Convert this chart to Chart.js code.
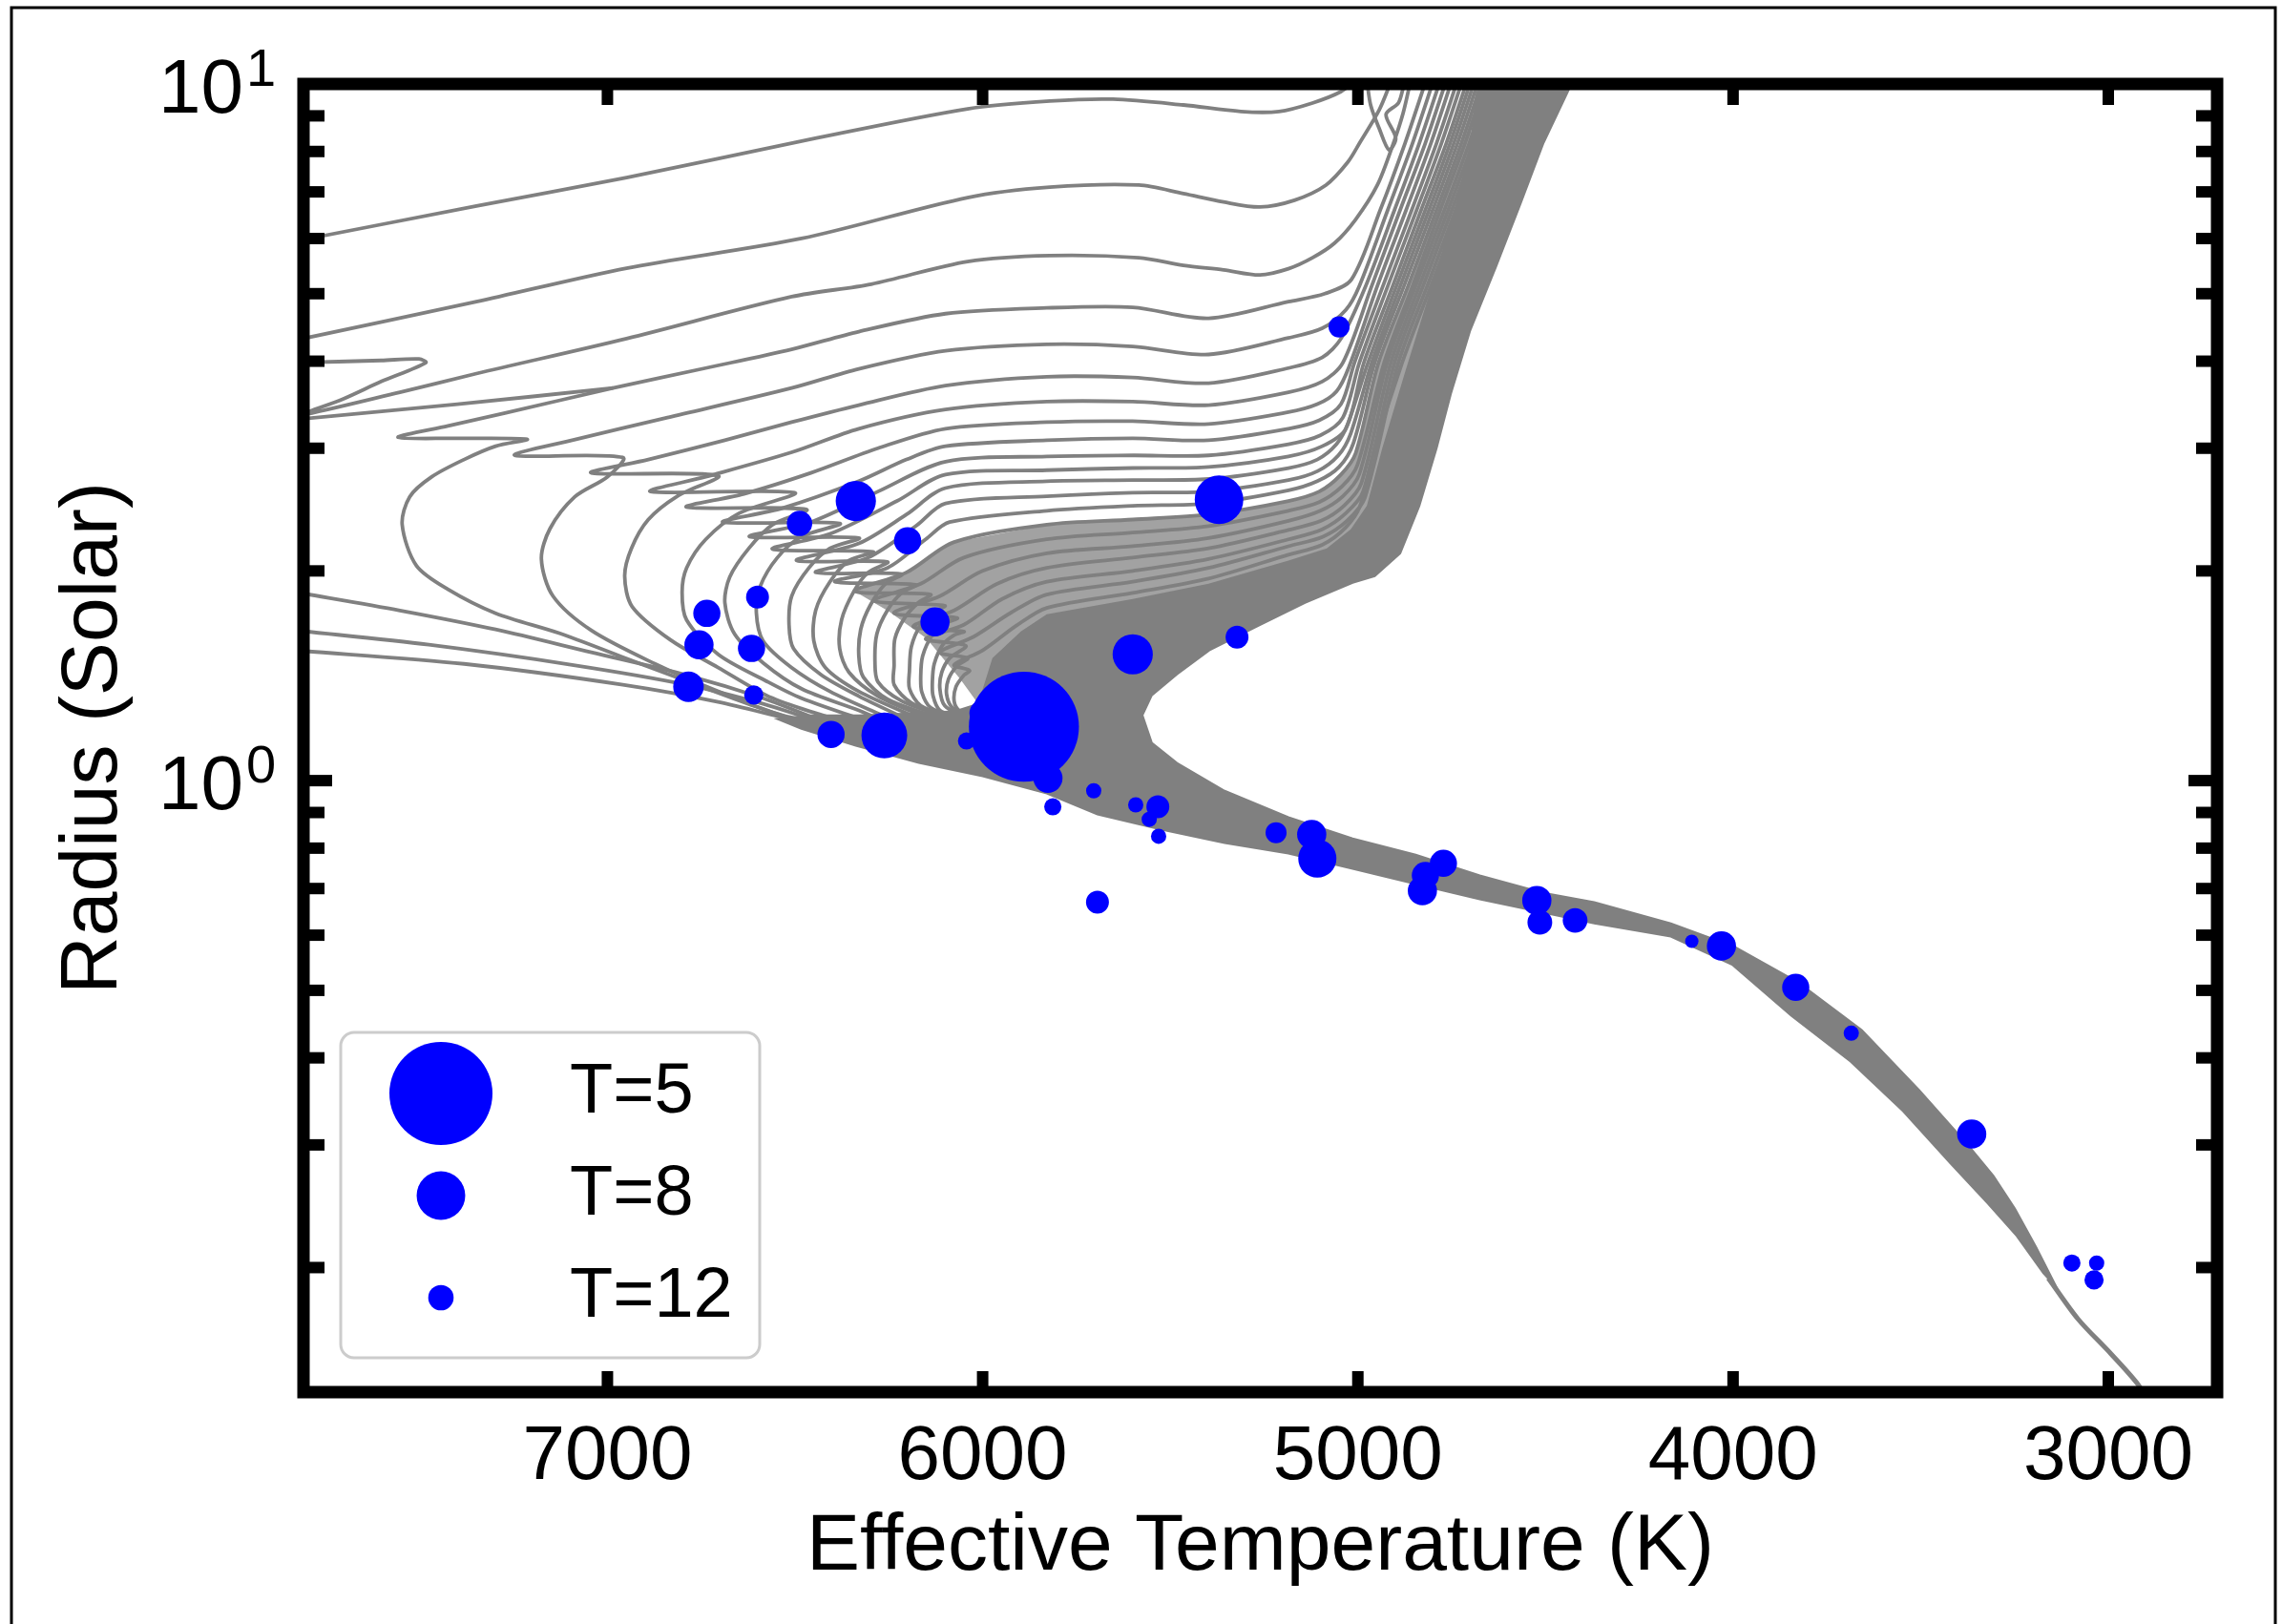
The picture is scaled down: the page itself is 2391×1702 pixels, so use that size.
<!DOCTYPE html>
<html>
<head>
<meta charset="utf-8">
<script src="https://cdn.jsdelivr.net/npm/chart.js@4.4.1/dist/chart.umd.min.js"></script>
<style>
  html, body { margin: 0; padding: 0; background: #fff; }
</style>
</head>
<body>
<canvas id="hrd" width="2391" height="1702"></canvas>
<script>
// axis ticks
const TEFF_TICKS = [7000, 6000, 5000, 4000, 3000];
const RADIUS_MAJOR = [1, 10];
const RADIUS_MINOR = [0.2, 0.3, 0.4, 0.5, 0.6, 0.7, 0.8, 0.9, 2, 3, 4, 5, 6, 7, 8, 9];
const LEGEND_T = [5, 8, 12];

// stars: effective temperature, radius and T value (sets the dot size)
const STAR_TEFF = [5050, 6338, 5370, 6488, 6200, 6600, 6735, 5322, 6127, 6756, 6616, 5600, 6784, 6610, 5890, 5999,
  6404, 6262, 6043, 5826, 5704, 5813, 5592, 5533, 5556, 5531, 5218, 5123, 5108, 5694, 4772, 4820, 4828, 4523, 4515,
  4421, 4110, 4031, 3833, 3685, 3364, 3097, 3031, 3038];
const STAR_RADIUS = [4.48, 2.52, 2.53, 2.34, 2.21, 1.834, 1.738, 1.607, 1.690, 1.567, 1.548, 1.518, 1.364, 1.327, 1.195, 1.249,
  1.165, 1.161, 1.140, 1.008, 0.967, 0.917, 0.923, 0.917, 0.880, 0.832, 0.842, 0.837, 0.773, 0.669, 0.761, 0.731, 0.695, 0.673, 0.626,
  0.630, 0.588, 0.579, 0.505, 0.434, 0.311, 0.203, 0.203, 0.192];
const STAR_T = [13.5, 9, 8, 12, 11.5, 12.8, 11.5, 12.8, 11, 11, 11.5, 9, 10.7, 14.3, 4.8, 11.5,
  11.5, 8.3, 15.3, 11, 16.5, 15.3, 16.5, 12.8, 16.5, 16.5, 13.5, 11, 9.3, 12.8, 11.5, 11.5, 11, 11, 12.2,
  12.2, 17.9, 11, 11.5, 16.5, 11, 15.3, 16.5, 14.3];

// model curves, [Teff, R]
const young1 = [[7830,5.95],[7349,6.68],[6949,7.34],[6458,8.33],[6040,9.21],[5821,9.45],[5653,9.51],[5465,9.33],[5312,9.13],[5210,9.13],[5121,9.39],[5045,9.75],[5006,10.13]];
const young2 = [[7830,4.29],[7349,4.87],[6949,5.44],[6483,6.00],[6040,6.87],[5821,7.11],[5584,7.16],[5465,6.96],[5358,6.77],[5261,6.66],[5169,6.81],[5085,7.16],[5027,7.72],[4994,8.25],[4943,9.18],[4910,10.13]];
const young3 = [[7830,3.98],[7603,4.01],[7502,4.03],[7484,3.98],[7603,3.74],[7705,3.53],[7815,3.35],[7553,3.61],[7349,3.84],[6949,4.31],[6509,4.95],[6297,5.16],[6040,5.56],[5821,5.67],[5584,5.63],[5465,5.49],[5358,5.41],[5261,5.32],[5185,5.43],[5121,5.63],[5062,5.91],[5006,6.39],[4948,7.16],[4905,8.23],[4879,9.10],[4859,10.13]];
const hookStroke = [[7830,3.30],[7400,3.47],[6985,3.66]];
const rgbTangle = [[4976,10.13],[4966,9.33],[4943,8.63],[4917,8.04],[4899,8.36],[4925,9.04],[4892,9.39],[4879,9.87],[4871,10.13]];
const msLeft1 = [[7830,1.864],[7553,1.755],[7298,1.648],[7043,1.528],[6789,1.417],[6585,1.313],[6432,1.221],[6330,1.180]];
const msLeft2 = [[7830,1.643],[7476,1.567],[7094,1.466],[6789,1.373],[6585,1.289],[6432,1.214],[6330,1.176]];
const msLeft3 = [[7830,1.538],[7382,1.471],[6959,1.373],[6705,1.297],[6483,1.214],[6330,1.172]];

const fan01 = [[6381,1.180],[6483,1.214],[6618,1.285],[6789,1.390],[6959,1.504],[7127,1.627],[7298,1.739],[7425,1.882],[7509,2.035],[7547,2.33],[7527,2.555],[7468,2.73],[7382,2.89],[7298,3.02],[7214,3.09],[7400,3.10],[7558,3.11],[7425,3.23],[7273,3.37],[6985,3.66],[6738,3.91],[6509,4.16],[6330,4.41],[6099,4.68],[5829,4.77],[5600,4.78],[5398,4.61],[5185,4.87],[5088,5.00],[5017,5.24],[4940,6.60],[4874,8.23],[4818,10.13]];
const fan02 = [[6330,1.180],[6534,1.241],[6705,1.343],[6873,1.471],[7043,1.643],[7145,1.840],[7176,2.08],[7153,2.30],[7087,2.555],[7000,2.73],[6959,2.91],[7247,2.93],[7094,3.08],[6840,3.32],[6509,3.66],[6330,3.90],[6099,4.14],[5829,4.23],[5600,4.20],[5398,4.09],[5185,4.32],[5095,4.46],[5032,4.74],[4996,5.13],[4920,6.60],[4854,8.23],[4798,10.13]];
const fan03 = [[6305,1.187],[6483,1.269],[6577,1.326],[6705,1.453],[6832,1.592],[6934,1.777],[6954,1.966],[6936,2.155],[6891,2.37],[6814,2.56],[6705,2.74],[7043,2.765],[6891,2.89],[6687,3.08],[6509,3.27],[6330,3.46],[6099,3.69],[5829,3.80],[5600,3.79],[5398,3.72],[5185,3.91],[5095,4.05],[5045,4.31],[4979,5.13],[4902,6.60],[4836,8.23],[4780,10.13]];
const fan04 = [[6279,1.202],[6483,1.313],[6577,1.390],[6705,1.518],[6789,1.701],[6801,1.864],[6789,2.02],[6738,2.22],[6649,2.42],[6501,2.59],[6885,2.60],[6738,2.73],[6509,2.96],[6330,3.20],[6099,3.41],[5829,3.50],[5600,3.50],[5398,3.46],[5185,3.61],[5095,3.74],[5040,3.98],[4963,5.13],[4887,6.60],[4820,8.23],[4764,10.13]];
const fan05 = [[6254,1.210],[6330,1.261],[6483,1.355],[6585,1.476],[6661,1.623],[6687,1.80],[6674,1.960],[6623,2.155],[6560,2.33],[6470,2.45],[6789,2.47],[6636,2.58],[6458,2.765],[6279,3.00],[6099,3.20],[5829,3.27],[5600,3.28],[5398,3.25],[5185,3.38],[5108,3.47],[5057,3.62],[5024,3.92],[4948,5.13],[4871,6.60],[4805,8.23],[4749,10.13]];
const fan06 = [[6228,1.218],[6279,1.249],[6407,1.343],[6509,1.453],[6585,1.587],[6603,1.739],[6593,1.899],[6547,2.09],[6483,2.24],[6381,2.34],[6692,2.35],[6534,2.46],[6330,2.69],[6203,2.89],[6099,3.02],[5829,3.08],[5600,3.10],[5398,3.08],[5185,3.20],[5103,3.29],[5045,3.47],[5009,3.98],[4933,5.13],[4856,6.60],[4790,8.23],[4734,10.13]];
const fan07 = [[6203,1.226],[6330,1.322],[6432,1.421],[6504,1.547],[6516,1.674],[6509,1.840],[6463,2.02],[6407,2.155],[6330,2.23],[6621,2.24],[6458,2.35],[6279,2.60],[6099,2.87],[5829,2.92],[5600,2.93],[5398,2.93],[5185,3.04],[5100,3.13],[5040,3.32],[4996,3.98],[4920,5.13],[4843,6.60],[4777,8.23],[4721,10.13]];
const fan08 = [[6178,1.233],[6330,1.343],[6419,1.453],[6450,1.587],[6445,1.755],[6407,1.929],[6356,2.07],[6292,2.13],[6560,2.15],[6407,2.26],[6228,2.52],[6099,2.75],[5829,2.79],[5600,2.81],[5398,2.82],[5185,2.92],[5095,3.02],[5032,3.20],[4984,3.98],[4907,5.13],[4831,6.60],[4764,8.23],[4708,10.13]];
const fan09 = [[6152,1.233],[6279,1.322],[6356,1.430],[6381,1.547],[6376,1.701],[6343,1.87],[6305,1.99],[6254,2.06],[6496,2.07],[6330,2.19],[6203,2.41],[6099,2.63],[5829,2.69],[5600,2.70],[5398,2.71],[5185,2.81],[5108,2.89],[5057,3.04],[5027,3.25],[4973,3.98],[4897,5.13],[4820,6.60],[4754,8.23],[4698,10.13]];
const fan10 = [[6139,1.241],[6254,1.309],[6318,1.408],[6330,1.509],[6325,1.648],[6300,1.783],[6259,1.917],[6216,1.979],[6445,1.99],[6305,2.09],[6178,2.32],[6099,2.50],[5829,2.56],[5600,2.59],[5398,2.60],[5185,2.70],[5108,2.78],[5052,2.93],[5019,3.15],[4963,3.98],[4887,5.13],[4810,6.60],[4744,8.23],[4688,10.13]];
const fan11 = [[6114,1.241],[6216,1.301],[6279,1.386],[6287,1.480],[6282,1.623],[6254,1.755],[6216,1.86],[6178,1.911],[6394,1.93],[6254,2.02],[6152,2.22],[6088,2.35],[5829,2.44],[5600,2.48],[5398,2.50],[5185,2.61],[5108,2.69],[5050,2.82],[5012,3.05],[4955,3.98],[4877,5.13],[4800,6.60],[4734,8.23],[4678,10.13]];
const fan12 = [[6101,1.241],[6190,1.293],[6236,1.373],[6236,1.462],[6234,1.597],[6208,1.712],[6172,1.80],[6139,1.85],[6341,1.87],[6203,1.99],[6076,2.20],[5829,2.33],[5600,2.37],[5398,2.41],[5185,2.52],[5103,2.60],[5045,2.75],[5006,2.95],[4945,3.98],[4866,5.13],[4790,6.60],[4724,8.23],[4668,10.13]];
const fan13 = [[6088,1.233],[6165,1.281],[6195,1.355],[6195,1.439],[6190,1.557],[6165,1.674],[6132,1.744],[6101,1.783],[6290,1.812],[6165,1.917],[6050,2.09],[5829,2.22],[5600,2.27],[5398,2.32],[5185,2.44],[5103,2.51],[5042,2.645],[5001,2.84],[4930,3.98],[4854,5.13],[4780,6.60],[4714,8.23],[4658,10.13]];
const fan14 = [[6076,1.233],[6139,1.273],[6162,1.339],[6165,1.412],[6160,1.509],[6134,1.618],[6101,1.680],[6068,1.712],[6236,1.739],[6114,1.840],[6000,2.00],[5829,2.12],[5600,2.17],[5398,2.23],[5185,2.36],[5100,2.44],[5040,2.56],[4996,2.755],[4922,3.98],[4846,5.13],[4769,6.60],[4703,8.23],[4647,10.13]];
const fan15 = [[6063,1.233],[6114,1.261],[6132,1.322],[6134,1.386],[6129,1.471],[6106,1.567],[6076,1.618],[6050,1.637],[6185,1.664],[6076,1.755],[5961,1.917],[5829,2.02],[5600,2.09],[5398,2.155],[5185,2.29],[5098,2.36],[5037,2.48],[4991,2.67],[4912,3.98],[4836,5.13],[4759,6.60],[4693,8.23],[4637,10.13]];
const fan16 = [[6050,1.233],[6101,1.281],[6114,1.355],[6109,1.430],[6088,1.499],[6045,1.562],[6152,1.597],[6050,1.674],[5948,1.823],[5829,1.93],[5600,2.00],[5398,2.08],[5185,2.22],[5095,2.295],[5032,2.42],[4986,2.60],[4902,3.98],[4826,5.13],[4749,6.60],[4683,8.23],[4627,10.13]];
const fan17 = [[6038,1.233],[6081,1.273],[6096,1.330],[6091,1.399],[6068,1.462],[6040,1.499],[6114,1.528],[6025,1.608],[5923,1.744],[5829,1.85],[5600,1.93],[5398,2.02],[5185,2.17],[5093,2.24],[5029,2.36],[4981,2.55],[4892,3.98],[4815,5.13],[4739,6.60],[4673,8.23],[4617,10.13]];
const fan18 = [[6025,1.233],[6063,1.261],[6076,1.301],[6071,1.364],[6050,1.417],[6035,1.439],[6076,1.466],[6000,1.538],[5910,1.669],[5829,1.77],[5600,1.86],[5398,1.95],[5185,2.11],[5095,2.18],[5032,2.31],[4994,2.48],[4955,3.00],[4882,3.98],[4805,5.13],[4728,6.60],[4663,8.23],[4607,10.13]];

// where the tracks pile up into solid grey (main sequence, turn-off fan, giant branch)
const denseCore = [[4681,10.25],[4421,10.25],[4439,9.78],[4505,8.23],[4566,6.74],[4632,5.46],[4701,4.42],[4752,3.59],[4790,3.00],[4836,2.48],[4887,2.12],[4955,1.966],[5014,1.923],[5141,1.80],[5269,1.664],[5396,1.538],[5482,1.421],[5549,1.326],[5574,1.241],[5549,1.133],[5482,1.060],[5355,0.967],[5185,0.886],[5014,0.826],[4846,0.783],[4675,0.731],[4505,0.690],[4370,0.669],[4166,0.624],[3995,0.577],[3827,0.5135],[3657,0.4385],[3504,0.3595],[3374,0.300],[3306,0.2709],[3249,0.2432],[3193,0.2144],[3137,0.187],
  [3173,0.1963],[3244,0.2220],[3321,0.2471],[3420,0.2820],[3547,0.3354],[3687,0.3952],[3845,0.4599],[4001,0.5435],[4166,0.5974],[4370,0.624],[4505,0.6462],[4675,0.6755],[4846,0.7103],[5014,0.7470],[5185,0.7858],[5355,0.8134],[5523,0.8502],[5694,0.8940],[5829,0.9583],[6000,1.0144],[6170,1.060],[6338,1.122],[6483,1.187],
  [6547,1.226],[6458,1.241],[6330,1.241],[6178,1.249],[6076,1.257],[6012,1.289],[5974,1.499],[5898,1.637],[5829,1.733],[5600,1.823],[5398,1.917],[5185,2.07],[5083,2.155],[5019,2.295],[4976,2.48],[4935,3.00],[4874,3.86],[4803,5.13],[4739,6.70],[4701,8.23]];
// tightly packed turn-off tracks just above the core, seen as mid grey
const fanHaze = [[6341,1.87],[6203,1.99],[6076,2.20],[5829,2.33],[5600,2.37],[5398,2.41],[5185,2.52],[5103,2.60],[5045,2.75],[5006,2.95],[4945,3.98],[4866,5.13],[4790,6.60],[4724,8.23],[4668,10.25],
  [4681,10.25],[4701,8.23],[4739,6.70],[4803,5.13],[4874,3.86],[4935,3.00],[4976,2.48],[5019,2.295],[5083,2.155],[5185,2.07],[5398,1.917],[5600,1.823],[5829,1.733],[5898,1.637],[5974,1.499],[6012,1.289],
  [6060,1.40],[6150,1.60],[6250,1.75]];
const msTail = [[3160,0.1932],[3081,0.1688],[2992,0.1502],[2918,0.1353],[2888,0.1263]];

const GRAY = '#808080';
const HAZE = '#a2a2a2';
const BLUE = '#0000ff';
const FONT = '"Liberation Sans", Arial, Helvetica, sans-serif';

function markerRadius(t) {
  return 54 * Math.pow(5 / t, 1.6);
}

function toXY(pts) {
  return pts.map(p => ({x: p[0], y: p[1]}));
}

const tracks = [young1, young2, young3, hookStroke, rgbTangle, msLeft1, msLeft2, msLeft3,
  fan01, fan02, fan03, fan04, fan05, fan06, fan07, fan08, fan09, fan10, fan11, fan12, fan13, fan14, fan15, fan16, fan17, fan18];

const datasets = [];
datasets.push({
  label: 'stars',
  data: STAR_TEFF.map((t, i) => ({x: t, y: STAR_RADIUS[i]})),
  pointBackgroundColor: BLUE,
  pointBorderColor: BLUE,
  pointBorderWidth: 0,
  pointRadius: c => (c.dataIndex === undefined ? 0 : markerRadius(STAR_T[c.dataIndex])),
  pointHoverRadius: c => (c.dataIndex === undefined ? 0 : markerRadius(STAR_T[c.dataIndex]))
});
tracks.forEach(pts => {
  datasets.push({
    data: toXY(pts),
    showLine: true,
    borderColor: GRAY,
    borderWidth: 3.8,
    pointRadius: 0,
    tension: 0.3,
    fill: false
  });
});
datasets.push({
  data: toXY(msTail),
  showLine: true,
  borderColor: GRAY,
  borderWidth: 5,
  pointRadius: 0,
  tension: 0.3,
  fill: false
});
datasets.push({
  data: toXY(fanHaze),
  showLine: true,
  borderColor: HAZE,
  backgroundColor: HAZE,
  borderWidth: 0,
  pointRadius: 0,
  tension: 0,
  fill: 'shape'
});
datasets.push({
  data: toXY(denseCore),
  showLine: true,
  borderColor: GRAY,
  backgroundColor: GRAY,
  borderWidth: 2,
  pointRadius: 0,
  tension: 0,
  fill: 'shape'
});

const axesDeco = {
  id: 'axesDeco',
  beforeDraw(chart) {
    const ctx = chart.ctx;
    ctx.save();
    ctx.fillStyle = '#fff';
    ctx.fillRect(0, 0, chart.width, chart.height);
    ctx.restore();
  },
  afterDraw(chart) {
    const {ctx, chartArea: a, scales: {x, y}} = chart;
    ctx.save();

    // thin outer frame of the figure
    ctx.strokeStyle = '#000';
    ctx.lineWidth = 3;
    ctx.strokeRect(12, 8, 2372, 1710);

    // inward ticks on all four sides
    ctx.fillStyle = '#000';
    TEFF_TICKS.forEach(t => {
      const px = x.getPixelForValue(t);
      ctx.fillRect(px - 6, a.bottom - 22, 12, 22);
      ctx.fillRect(px - 6, a.top, 12, 22);
    });
    const yTick = (v, len) => {
      const py = y.getPixelForValue(v);
      ctx.fillRect(a.left, py - 6, len, 12);
      ctx.fillRect(a.right - len, py - 6, len, 12);
    };
    RADIUS_MINOR.forEach(v => yTick(v, 22));
    RADIUS_MAJOR.forEach(v => yTick(v, 30));

    ctx.lineWidth = 13;
    ctx.lineJoin = 'miter';
    ctx.strokeRect(a.left, a.top, a.right - a.left, a.bottom - a.top);

    // tick labels
    ctx.font = '80px ' + FONT;
    ctx.textAlign = 'center';
    ctx.textBaseline = 'alphabetic';
    TEFF_TICKS.forEach(t => {
      ctx.fillText(String(t), x.getPixelForValue(t), a.bottom + 91);
    });
    RADIUS_MAJOR.forEach(v => {
      const py = y.getPixelForValue(v);
      const expo = String(Math.round(Math.log10(v)));
      ctx.textAlign = 'left';
      ctx.font = '80px ' + FONT;
      ctx.fillText('10', 166, py + 30);
      const w = ctx.measureText('10').width;
      ctx.font = '56px ' + FONT;
      ctx.fillText(expo, 166 + w + 3, py + 2);
    });

    // axis titles
    ctx.font = '84px ' + FONT;
    ctx.textAlign = 'center';
    ctx.fillText('Effective Temperature (K)', (a.left + a.right) / 2, a.bottom + 186);
    ctx.save();
    ctx.translate(122, (a.top + a.bottom) / 2);
    ctx.rotate(-Math.PI / 2);
    ctx.fillText('Radius (Solar)', 0, 0);
    ctx.restore();

    // legend box
    const lx = a.left + 39, ly = a.bottom - 377, lw = 439, lh = 341, rr = 14;
    ctx.beginPath();
    ctx.moveTo(lx + rr, ly);
    ctx.arcTo(lx + lw, ly, lx + lw, ly + lh, rr);
    ctx.arcTo(lx + lw, ly + lh, lx, ly + lh, rr);
    ctx.arcTo(lx, ly + lh, lx, ly, rr);
    ctx.arcTo(lx, ly, lx + lw, ly, rr);
    ctx.closePath();
    ctx.fillStyle = 'rgba(255,255,255,0.85)';
    ctx.fill();
    ctx.lineWidth = 3;
    ctx.strokeStyle = '#cccccc';
    ctx.stroke();

    ctx.font = '74px ' + FONT;
    ctx.textAlign = 'left';
    LEGEND_T.forEach((t, i) => {
      const cy = ly + 64 + i * 107;
      ctx.fillStyle = BLUE;
      ctx.beginPath();
      ctx.arc(lx + 105, cy, markerRadius(t), 0, Math.PI * 2);
      ctx.fill();
      ctx.fillStyle = '#000';
      ctx.fillText('T=' + t, lx + 240, cy + 20);
    });

    ctx.restore();
  }
};

new Chart(document.getElementById('hrd'), {
  type: 'scatter',
  data: {datasets: datasets},
  options: {
    responsive: false,
    devicePixelRatio: 1,
    animation: false,
    events: [],
    layout: {padding: {left: 318, top: 88, right: 68, bottom: 243}},
    plugins: {legend: {display: false}, tooltip: {enabled: false}},
    scales: {
      x: {type: 'linear', display: false, reverse: true, min: 2710, max: 7810},
      y: {type: 'logarithmic', display: false, min: 0.1325, max: 10}
    }
  },
  plugins: [axesDeco]
});
</script>
</body>
</html>
